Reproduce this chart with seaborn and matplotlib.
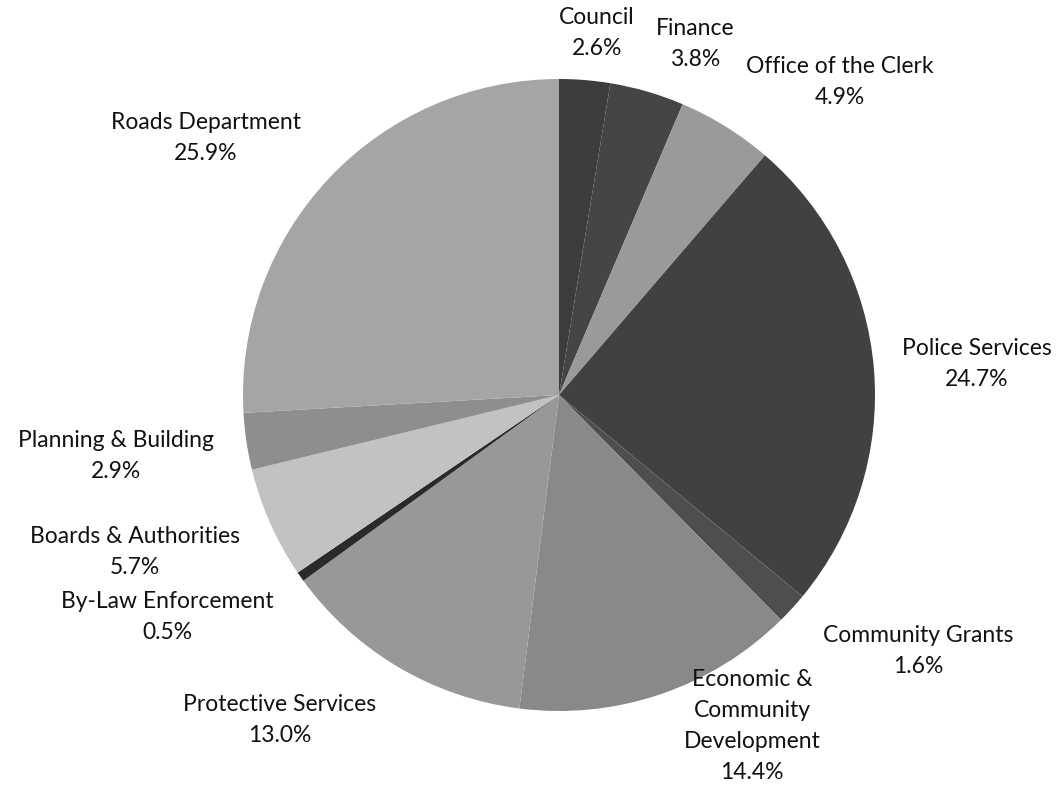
import matplotlib
matplotlib.use("Agg")
import matplotlib.pyplot as plt
import seaborn as sns

# ---- data ----
departments = [
    "Council", "Finance", "Office of the Clerk", "Police Services",
    "Community Grants", "Economic &\nCommunity\nDevelopment",
    "Protective Services", "By-Law Enforcement", "Boards & Authorities",
    "Planning & Building", "Roads Department",
]
shares = [2.6, 3.8, 4.9, 24.7, 1.6, 14.4, 13.0, 0.5, 5.7, 2.9, 25.9]
pct_labels = ["2.6%", "3.8%", "4.9%", "24.7%", "1.6%", "14.4%",
              "13.0%", "0.5%", "5.7%", "2.9%", "25.9%"]

# ---- style / layout ----
slice_colors = ["#3c3c3c", "#454545", "#9a9a9a", "#414141", "#4e4e4e",
                "#898989", "#989898", "#2a2a2a", "#c2c2c2", "#8e8e8e",
                "#a5a5a5"]
# label block centres in pixel coords (x, y from top)
label_centres = [(597, 33), (695, 44), (840, 82), (977, 364), (918, 651),
                 (752, 726), (280, 720), (167, 617), (135, 552), (116, 456),
                 (206, 138)]
W, H = 1059, 785
PIE_CX, PIE_CY, PIE_R = 559, 395, 316
LINE_STEP = 31

sns.set_theme(style="white")
plt.rcParams["font.family"] = ["Lato", "DejaVu Sans"]

fig = plt.figure(figsize=(W / 100, H / 100), dpi=100)
fig.patch.set_facecolor("white")
ax = fig.add_axes([0, 0, 1, 1])

ax.pie(shares, colors=slice_colors, startangle=90, counterclock=False,
       center=(PIE_CX, H - PIE_CY), radius=PIE_R,
       wedgeprops=dict(linewidth=0, edgecolor="none"))

ax.set_xlim(0, W)
ax.set_ylim(0, H)
ax.set_aspect("auto")
ax.axis("off")

for name, pct, (x, y) in zip(departments, pct_labels, label_centres):
    lines = name.split("\n") + [pct]
    n = len(lines)
    for i, line in enumerate(lines):
        ly = y + (i - (n - 1) / 2) * LINE_STEP
        ax.text(x, H - ly, line, ha="center", va="center",
                fontsize=16.5, color="#111111")

fig.savefig("out.png", dpi=100, facecolor="white")
